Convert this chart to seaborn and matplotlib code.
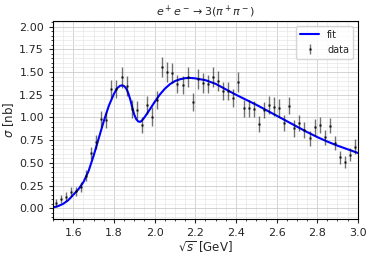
import numpy as np
import pandas as pd
import matplotlib
matplotlib.use("Agg")
import matplotlib.pyplot as plt
import seaborn as sns

# data points (sqrt(s) in GeV, sigma in nb)
energy = [1.5125 + 0.025 * k for k in range(60)]
sigma = [0.06, 0.10, 0.13, 0.18, 0.19, 0.24, 0.36, 0.61, 0.73, 0.98,
         0.97, 1.31, 1.31, 1.44, 1.35, 1.09, 1.08, 0.92, 1.14, 1.01,
         1.19, 1.55, 1.50, 1.49, 1.37, 1.36, 1.44, 1.17, 1.42, 1.38,
         1.37, 1.44, 1.40, 1.29, 1.29, 1.21, 1.39, 1.10, 1.10, 1.09,
         0.93, 1.08, 1.14, 1.12, 1.10, 0.94, 1.13, 0.88, 0.94, 0.86,
         0.77, 0.89, 0.92, 0.78, 0.91, 0.72, 0.56, 0.51, 0.59, 0.68]
sigma_err = [0.04, 0.045, 0.045, 0.05, 0.05, 0.055, 0.06, 0.07, 0.08, 0.09,
             0.09, 0.10, 0.10, 0.12, 0.11, 0.10, 0.10, 0.09, 0.10, 0.10,
             0.10, 0.11, 0.11, 0.11, 0.10, 0.10, 0.11, 0.10, 0.11, 0.11,
             0.10, 0.11, 0.11, 0.10, 0.10, 0.10, 0.11, 0.09, 0.09, 0.09,
             0.09, 0.09, 0.10, 0.10, 0.10, 0.09, 0.09, 0.09, 0.09, 0.09,
             0.08, 0.09, 0.09, 0.08, 0.08, 0.08, 0.07, 0.07, 0.07, 0.08]

# fit curve
fit_x = [1.500, 1.525, 1.550, 1.575, 1.600, 1.625, 1.650, 1.675, 1.700, 1.725,
         1.750, 1.775, 1.800, 1.815, 1.830, 1.840, 1.850, 1.860, 1.870, 1.880,
         1.890, 1.900, 1.910, 1.920, 1.930, 1.940, 1.950, 1.965, 1.980, 2.000,
         2.025, 2.050, 2.075, 2.100, 2.125, 2.150, 2.175, 2.200, 2.250, 2.300,
         2.350, 2.400, 2.450, 2.500, 2.550, 2.600, 2.650, 2.700, 2.750, 2.800,
         2.850, 2.900, 2.950, 3.000]
fit_y = [0.010, 0.025, 0.050, 0.090, 0.150, 0.210, 0.290, 0.410, 0.580, 0.770,
         0.960, 1.130, 1.260, 1.320, 1.348, 1.353, 1.345, 1.320, 1.270, 1.200,
         1.110, 1.030, 0.980, 0.955, 0.952, 0.972, 1.000, 1.050, 1.100, 1.170,
         1.250, 1.315, 1.365, 1.400, 1.420, 1.432, 1.435, 1.430, 1.410, 1.370,
         1.310, 1.250, 1.195, 1.140, 1.080, 1.020, 0.960, 0.900, 0.840, 0.785,
         0.735, 0.690, 0.650, 0.610]

df_fit = pd.DataFrame({"x": fit_x, "y": fit_y})

sns.set_style("ticks")
plt.rcParams["font.family"] = ["DejaVu Sans"]
plt.rcParams["mathtext.fontset"] = "dejavusans"

fig = plt.figure(figsize=(3.74, 2.6), dpi=100)
ax = fig.add_axes([0.1417, 0.1565, 0.815, 0.7625])

sns.lineplot(data=df_fit, x="x", y="y", color="blue", lw=1.5, label="fit", ax=ax)
ax.errorbar(energy, sigma, yerr=sigma_err, fmt=".", color="k", alpha=0.55,
            markersize=2, elinewidth=1, label="data")

ax.set_xlim(1.5, 3.0)
ax.set_ylim(-0.12, 2.06)
ax.set_xticks([1.6, 1.8, 2.0, 2.2, 2.4, 2.6, 2.8, 3.0])
ax.set_yticks([0.0, 0.25, 0.5, 0.75, 1.0, 1.25, 1.5, 1.75, 2.0])
ax.minorticks_on()
ax.grid(which="major", color="#cccccc", lw=0.6)
ax.grid(which="minor", color="#e8e8e8", lw=0.5)
ax.tick_params(labelsize=8, length=3, width=0.8)
ax.tick_params(which="minor", length=1.5, width=0.6)
for s in ax.spines.values():
    s.set_color("black")
    s.set_linewidth(0.8)

ax.set_xlabel(r"$\sqrt{s}$ [GeV]", fontsize=8.5, labelpad=1)
ax.set_ylabel(r"$\sigma$ [nb]", fontsize=8.5, labelpad=2)
ax.set_title(r"$e^+e^- \to 3(\pi^+\pi^-)$", fontsize=8, pad=4)
ax.legend(loc="upper right", fontsize=7, frameon=True)

fig.savefig("out.png", dpi=100)
